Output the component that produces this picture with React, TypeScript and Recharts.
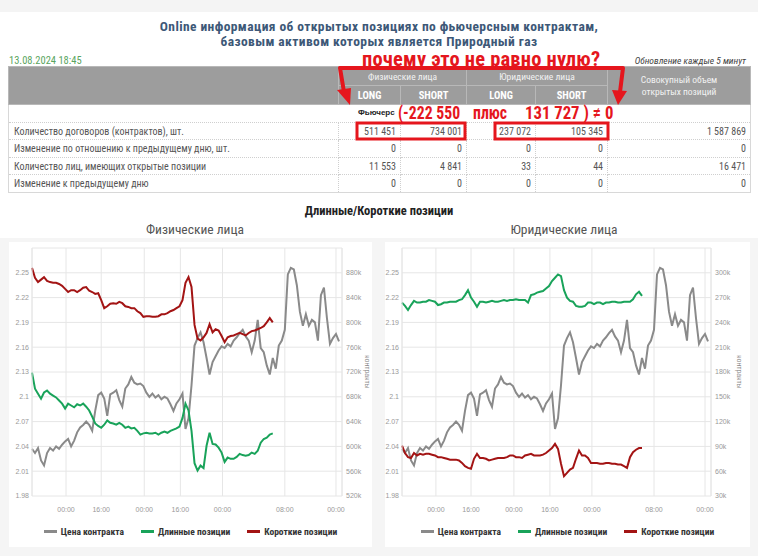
import React from 'react'
import { LineChart, Line, XAxis, YAxis, CartesianGrid, Legend } from 'recharts'

// contract price, same series on both charts
const price = [
  2.037, 2.032, 2.038, 2.023, 2.017, 2.032, 2.038, 2.035, 2.040, 2.037,
  2.042, 2.046, 2.049, 2.040, 2.047, 2.057, 2.063, 2.066, 2.070, 2.066,
  2.059, 2.083, 2.102, 2.105, 2.098, 2.077, 2.103, 2.105, 2.108, 2.096,
  2.088, 2.110, 2.115, 2.124, 2.117, 2.115, 2.116, 2.113, 2.105, 2.100,
  2.104, 2.099, 2.102, 2.097, 2.100, 2.098, 2.091, 2.083, 2.092, 2.097,
  2.104, 2.061, 2.074, 2.114, 2.162, 2.171, 2.178, 2.166, 2.147, 2.127,
  2.142, 2.149, 2.156, 2.161, 2.159, 2.164, 2.161, 2.168, 2.172, 2.177,
  2.181, 2.173, 2.168, 2.154, 2.168, 2.193, 2.159, 2.154, 2.138, 2.127,
  2.147, 2.134, 2.162, 2.168, 2.181, 2.248, 2.256, 2.254, 2.235, 2.203,
  2.186, 2.200, 2.186, 2.193, 2.190, 2.168, 2.223, 2.232, 2.195, 2.164,
  2.171, 2.176, 2.167,
]

// open positions, thousands of contracts
const physLong = [
  719, 693, 685, 677, 687, 690, 685, 682, 679, 674,
  669, 661, 669, 666, 663, 668, 666, 669, 664, 658,
  648, 637, 633, 630, 635, 642, 638, 637, 635, 638,
  635, 630, 632, 629, 630, 625, 619, 621, 622, 621,
  621, 622, 619, 622, 624, 622, 625, 627, 629, 632,
  646, 669, 658, 625, 573, 561, 569, 565, 601, 622,
  604, 603, 598, 590, 575, 582, 580, 580, 583, 588,
  586, 585, 586, 590, 588, 593, 606, 612, 614, 619,
  621,
]
const physShort = [
  888, 872, 865, 869, 873, 867, 865, 864, 864, 862,
  859, 854, 849, 852, 852, 849, 852, 856, 857, 851,
  849, 846, 847, 836, 823, 826, 830, 831, 830, 833,
  831, 826, 825, 823, 823, 818, 815, 809, 810, 810,
  809, 809, 810, 813, 813, 815, 818, 820, 823, 826,
  836, 864, 873, 857, 796, 774, 771, 776, 783, 797,
  784, 789, 787, 778, 768, 776, 778, 779, 781, 783,
  781, 779, 783, 786, 787, 789, 791, 794, 800, 807,
  800,
]
const jurLong = [
  264, 260, 255, 261, 266, 264, 264, 265, 265, 267,
  266, 265, 261, 262, 264, 264, 265, 265, 265, 267,
  268, 273, 279, 270, 265, 259, 265, 265, 264, 265,
  266, 265, 265, 266, 267, 266, 267, 267, 268, 267,
  267, 267, 264, 273, 274, 276, 277, 278, 281, 284,
  290, 294, 298, 296, 279, 270, 266, 265, 260, 259,
  259, 260, 264, 264, 262, 264, 264, 262, 264, 264,
  265, 265, 264, 264, 265, 265, 265, 268, 274, 277,
  272,
]
const jurShort = [
  91, 82, 77, 76, 82, 79, 81, 80, 81, 81,
  80, 79, 77, 77, 76, 75, 74, 74, 74, 73,
  70, 66, 64, 63, 75, 81, 76, 76, 75, 73,
  74, 75, 76, 76, 76, 77, 79, 79, 77, 77,
  76, 79, 80, 81, 79, 79, 79, 80, 82, 85,
  88, 93, 87, 69, 54, 58, 62, 64, 75, 85,
  79, 79, 76, 70, 70, 70, 69, 69, 70, 70,
  69, 69, 68, 68, 66, 64, 77, 83, 86, 88,
  88,
]

const xTicks = [11.3, 23, 37.3, 49.3, 63.3, 84, 101]
const xTickLabels = ['00:00', '16:00', '00:00', '16:00', '00:00', '08:00', '00:00']
const priceTicks = [1.98, 2.01, 2.04, 2.07, 2.1, 2.13, 2.16, 2.19, 2.22, 2.25]
const physTicks = [520, 560, 600, 640, 680, 720, 760, 800, 840, 880]
const jurTicks = [30, 60, 90, 120, 150, 180, 210, 240, 270, 300]
const seriesNames = ['Цена контракта', 'Длинные позиции', 'Короткие позиции']

// table
const rowLabels = [
  'Количество договоров (контрактов), шт.',
  'Изменение по отношению к предыдущему дню, шт.',
  'Количество лиц, имеющих открытые позиции',
  'Изменение к предыдущему дню',
]
const physLongCells = ['511 451', '0', '11 553', '0']
const physShortCells = ['734 001', '0', '4 841', '0']
const jurLongCells = ['237 072', '0', '33', '0']
const jurShortCells = ['105 345', '0', '44', '0']
const totalCells = ['1 587 869', '0', '16 471', '0']

const NARROW = "'Liberation Sans Narrow', 'Arial Narrow', 'Roboto Condensed', sans-serif"
const SANS = "'Liberation Sans', Arial, sans-serif"
const GREY = '#8a8a8a'
const GREEN = '#19a35a'
const RED = '#a31414'
const ANNOT = '#e5161d'

const colW = [330, 62, 66, 69, 72, 143]

function LegendRow() {
  const colors = [GREY, GREEN, RED]
  return (
    <div style={{ display: 'flex', justifyContent: 'center', alignItems: 'center', gap: 17, height: 31,
      fontFamily: NARROW, fontSize: 9.5, fontWeight: 'bold', color: '#333' }}>
      {seriesNames.map((n, k) => (
        <div key={n} style={{ display: 'flex', alignItems: 'center', gap: 4 }}>
          <span style={{ display: 'inline-block', width: 13, height: 2.5, background: colors[k] }} />
          {n}
        </div>
      ))}
    </div>
  )
}

function PositionsChart({ longs, shorts, oiTicks, width, leftW, rightW, titleInset }: any) {
  const rows = price.map((p, i) => ({
    i,
    price: p,
    long: i < longs.length ? longs[i] : null,
    short: i < shorts.length ? shorts[i] : null,
  }))
  const step = oiTicks[1] - oiTicks[0]
  const oiDomain = [oiTicks[0], oiTicks[oiTicks.length - 1] + step]
  const tick = { fontSize: 7, fill: '#999', fontFamily: SANS }
  const AxisTitle = (props: any) => {
    const vb = props.viewBox
    const x = vb.x + vb.width - titleInset
    const y = vb.y + vb.height / 2
    return (
      <text x={x} y={y} transform={`rotate(90 ${x} ${y})`} textAnchor="middle" fontSize={7} fill="#888" fontFamily={SANS}>
        контракты
      </text>
    )
  }
  return (
    <LineChart width={width} height={305} data={rows} margin={{ top: 6, right: 0, left: 0, bottom: 0 }}>
      <CartesianGrid yAxisId="price" stroke="#e6e6e6" />
      <XAxis type="number" dataKey="i" domain={[0, 103]} ticks={xTicks} interval={0}
        tickFormatter={(v: number) => xTickLabels[xTicks.indexOf(v)]}
        axisLine={false} tickLine={false} tickMargin={5} tick={tick} height={20} />
      <YAxis yAxisId="price" orientation="left" width={leftW} domain={[1.98, 2.28]} ticks={priceTicks}
        interval={0} allowDataOverflow tickFormatter={(v: number) => String(Number(v.toFixed(2)))}
        axisLine={{ stroke: '#e6e6e6' }} tickLine={false} tickSize={0} tickMargin={3} tick={tick} />
      <YAxis yAxisId="oi" orientation="right" width={rightW} domain={oiDomain} ticks={oiTicks}
        interval={0} allowDataOverflow tickFormatter={(v: number) => `${v}k`}
        axisLine={{ stroke: '#e6e6e6' }} tickLine={false} tickSize={0} tickMargin={4} tick={tick}
        label={{ content: AxisTitle }} />
      <Line yAxisId="price" dataKey="price" stroke={GREY} strokeWidth={2} dot={false} type="linear"
        isAnimationActive={false} />
      <Line yAxisId="oi" dataKey="long" stroke={GREEN} strokeWidth={2} dot={false} type="linear"
        isAnimationActive={false} />
      <Line yAxisId="oi" dataKey="short" stroke={RED} strokeWidth={2} dot={false} type="linear"
        isAnimationActive={false} />
      <Legend verticalAlign="bottom" height={31} content={<LegendRow />} />
    </LineChart>
  )
}

export default function App() {
  const hdr: React.CSSProperties = { border: '1px solid #b8b8b8', color: '#f2f2f2', fontSize: 9.5, textAlign: 'center', padding: 0 }
  const cell: React.CSSProperties = { borderRight: '1px dotted #cfcfcf', borderBottom: '1px dotted #cfcfcf', fontSize: 10,
    color: '#555', textAlign: 'right', padding: '0 4px 0 0' }
  const annot: React.CSSProperties = { position: 'absolute', top: 102, fontSize: 19, fontWeight: 'bold', color: ANNOT,
    lineHeight: '22px', transform: 'scaleX(0.83)', transformOrigin: 'left center', whiteSpace: 'nowrap' }
  const title: React.CSSProperties = { position: 'absolute', left: 0, width: 758, height: 12, textAlign: 'center',
    color: '#3d5877', fontWeight: 'bold', fontSize: 13.5, letterSpacing: 0.4, lineHeight: '12px', whiteSpace: 'nowrap' }
  return (
    <div style={{ position: 'relative', width: 758, height: 556, background: '#fff', overflow: 'hidden', fontFamily: NARROW }}>
      <style>{'body{margin:0}'}</style>
      <div style={{ position: 'absolute', left: 0, top: 0, width: 758, height: 12, background: '#f4f4f4' }} />

      <div style={{ ...title, top: 20 }}>Online информация об открытых позициях по фьючерсным контрактам,</div>
      <div style={{ ...title, top: 35 }}>базовым активом которых является Природный газ</div>
      <div style={{ position: 'absolute', left: 9, top: 54, fontSize: 10.5, color: '#5aa55e' }}>13.08.2024 18:45</div>
      <div style={{ position: 'absolute', right: 12, top: 55, fontSize: 9.5, color: '#444', fontStyle: 'italic' }}>
        Обновление каждые 5 минут
      </div>

      <table style={{ position: 'absolute', left: 8, top: 66, borderCollapse: 'collapse', tableLayout: 'fixed',
        width: 742, fontFamily: NARROW, border: '1px solid #d8d8d8' }}>
        <colgroup>
          {colW.map((w, k) => <col key={k} style={{ width: w }} />)}
        </colgroup>
        <tbody>
          <tr style={{ height: 19, background: '#9d9d9d' }}>
            <td rowSpan={2} style={hdr} />
            <td colSpan={2} style={hdr}>Физические лица</td>
            <td colSpan={2} style={hdr}>Юридические лица</td>
            <td rowSpan={2} style={{ ...hdr, lineHeight: '12px' }}>Совокупный объем<br />открытых позиций</td>
          </tr>
          <tr style={{ height: 19, background: '#9d9d9d' }}>
            {['LONG', 'SHORT', 'LONG', 'SHORT'].map((t, k) => (
              <td key={k} style={{ ...hdr, fontWeight: 'bold', fontSize: 10.5, color: '#fff' }}>{t}</td>
            ))}
          </tr>
          <tr style={{ height: 18 }}>
            <td colSpan={6} style={{ borderBottom: '1px dotted #cfcfcf' }} />
          </tr>
          {rowLabels.map((label, r) => (
            <tr key={r} style={{ height: r % 2 === 0 ? 17 : 18 }}>
              <td style={{ ...cell, textAlign: 'left', padding: '0 0 0 5px' }}>{label}</td>
              <td style={cell}>{physLongCells[r]}</td>
              <td style={cell}>{physShortCells[r]}</td>
              <td style={cell}>{jurLongCells[r]}</td>
              <td style={cell}>{jurShortCells[r]}</td>
              <td style={cell}>{totalCells[r]}</td>
            </tr>
          ))}
        </tbody>
      </table>
      <div style={{ position: 'absolute', left: 358, top: 108, fontSize: 8, fontWeight: 'bold', color: '#222', fontFamily: SANS }}>
        Фьючерс
      </div>

      {/* red annotations */}
      <div style={{ position: 'absolute', left: 362, top: 52, fontSize: 20.5, fontWeight: 'bold', color: ANNOT,
        lineHeight: '14px', whiteSpace: 'nowrap', letterSpacing: 0.2 }}>
        почему это не равно нулю?
      </div>
      <div style={{ ...annot, left: 398 }}>(-222 550</div>
      <div style={{ ...annot, left: 473 }}>плюс</div>
      <div style={{ ...annot, left: 525, transform: 'scaleX(0.88)' }}>131 727 ) ≠ 0</div>
      <svg width={758} height={556} style={{ position: 'absolute', left: 0, top: 0, pointerEvents: 'none' }}>
        <polyline points="344,92 340,68 623,68 620,92" fill="none" stroke={ANNOT} strokeWidth={4} strokeLinejoin="round" />
        <polygon points="337,90 351,88 350,105" fill={ANNOT} />
        <polygon points="612,90 627,91 618,105" fill={ANNOT} />
        <rect x={357} y={123} width={108} height={16} fill="none" stroke={ANNOT} strokeWidth={3} />
        <rect x={495} y={123} width={113} height={16} fill="none" stroke={ANNOT} strokeWidth={3} />
      </svg>

      <div style={{ position: 'absolute', left: 0, top: 203, width: 758, textAlign: 'center', fontSize: 12.5,
        fontWeight: 'bold', color: '#222' }}>
        Длинные/Короткие позиции
      </div>
      <div style={{ position: 'absolute', left: 9, top: 221, width: 372, textAlign: 'center', fontSize: 13.5, color: '#555' }}>
        Физические лица
      </div>
      <div style={{ position: 'absolute', left: 378, top: 221, width: 372, textAlign: 'center', fontSize: 13.5, color: '#555' }}>
        Юридические лица
      </div>

      <div style={{ position: 'absolute', left: 0, top: 238, width: 758, height: 318, background: '#f5f5f5' }} />
      <div style={{ position: 'absolute', left: 9, top: 242, width: 363, height: 305, background: '#fff' }}>
        <PositionsChart longs={physLong} shorts={physShort} oiTicks={physTicks} width={363} leftW={23} rightW={30} titleInset={7} />
      </div>
      <div style={{ position: 'absolute', left: 385, top: 242, width: 365, height: 305, background: '#fff' }}>
        <PositionsChart longs={jurLong} shorts={jurShort} oiTicks={jurTicks} width={365} leftW={17} rightW={39} titleInset={13} />
      </div>
    </div>
  )
}
